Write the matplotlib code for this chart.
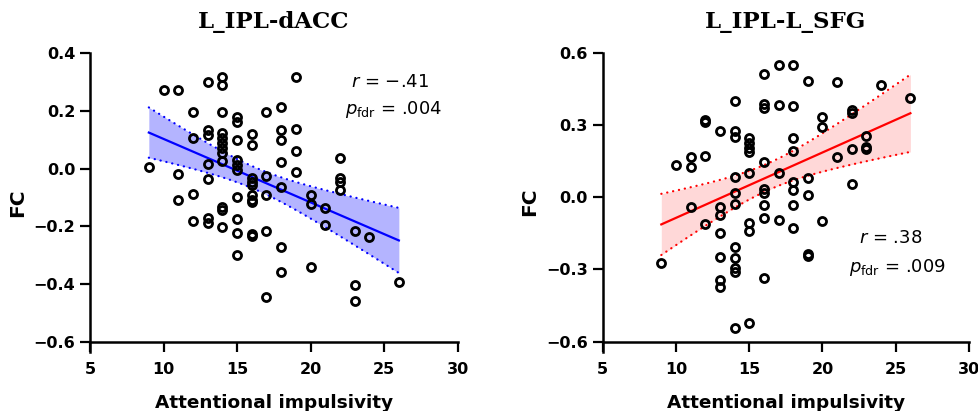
import numpy as np
import matplotlib
matplotlib.use("Agg")
import matplotlib.pyplot as plt

# ---------------- data ----------------
titles = ["L_IPL-dACC", "L_IPL-L_SFG"]
xlabel = "Attentional impulsivity"
ylabel = "FC"

dacc = {
    9: [0.007],
    10: [0.273],
    11: [0.273, -0.019, -0.110],
    12: [0.196, 0.108, -0.088, -0.181],
    13: [0.299, 0.134, 0.115, 0.015, -0.035, -0.172, -0.190],
    14: [0.317, 0.290, 0.196, 0.122, 0.105, 0.088, 0.071, 0.053, 0.027, -0.132, -0.144, -0.204],
    15: [0.180, 0.163, 0.099, 0.030, 0.013, -0.005, -0.100, -0.176, -0.222, -0.300],
    16: [0.120, 0.082, -0.034, -0.045, -0.057, -0.092, -0.109, -0.115, -0.228, -0.234],
    17: [0.197, -0.026, -0.092, -0.215, -0.444],
    18: [0.213, 0.134, 0.099, 0.024, -0.063, -0.271, -0.357],
    19: [0.319, 0.137, 0.060, -0.012],
    20: [-0.092, -0.123, -0.342],
    21: [-0.136, -0.196],
    22: [0.036, -0.034, -0.045, -0.074],
    23: [-0.215, -0.404, -0.458],
    24: [-0.238],
    26: [-0.392],
}
sfg = {
    9: [-0.272],
    10: [0.134],
    11: [0.168, 0.127, -0.042],
    12: [0.321, 0.314, 0.171, -0.111],
    13: [0.276, -0.040, -0.074, -0.150, -0.250, -0.344, -0.374],
    14: [0.401, 0.276, 0.249, 0.084, 0.019, -0.028, -0.206, -0.254, -0.295, -0.309, -0.545],
    15: [0.245, 0.225, 0.205, 0.188, 0.102, -0.106, -0.139, -0.524],
    16: [0.512, 0.387, 0.369, 0.145, 0.036, 0.016, -0.032, -0.086, -0.334],
    17: [0.549, 0.383, 0.102, -0.094],
    18: [0.549, 0.380, 0.245, 0.193, 0.062, 0.029, -0.032, -0.129],
    19: [0.484, 0.080, 0.008, -0.234, -0.244],
    20: [0.332, 0.292, -0.097],
    21: [0.477, 0.166],
    22: [0.362, 0.351, 0.200, 0.055],
    23: [0.254, 0.207, 0.199],
    24: [0.466],
    26: [0.411],
}
stats_r = ["\u2212.41", ".38"]
stats_p = [".004", ".009"]

x_ticks = [5, 10, 15, 20, 25, 30]
y_ticks = [[-0.6, -0.4, -0.2, 0.0, 0.2, 0.4], [-0.6, -0.3, 0.0, 0.3, 0.6]]
line_colors = ["#0000FF", "#FF0000"]
fill_colors = ["#B4B4FF", "#FFD8D8"]


def flatten(d):
    xs, ys = [], []
    for k, vals in d.items():
        for v in vals:
            xs.append(k)
            ys.append(v)
    return np.array(xs, float), np.array(ys, float)


def fit_ci(x, y, xg):
    n = len(x)
    b, a = np.polyfit(x, y, 1)
    yhat = a + b * xg
    res = y - (a + b * x)
    s = np.sqrt(np.sum(res ** 2) / (n - 2))
    sxx = np.sum((x - x.mean()) ** 2)
    t = 1.99
    se = s * np.sqrt(1.0 / n + (xg - x.mean()) ** 2 / sxx)
    return yhat, yhat - t * se, yhat + t * se


plt.rcParams["font.family"] = ["DejaVu Sans"]
plt.rcParams["mathtext.fontset"] = "dejavusans"

fig = plt.figure(figsize=(9.79, 4.11), dpi=100)
W, H = 979, 411
axes_px = [
    (90.0, 457.7, 53.3, 341.7, (-0.6, 0.4)),
    (602.7, 969.0, 52.7, 341.7, (-0.6, 0.6)),
]
datasets = [dacc, sfg]
stat_pos = [((390, 82), (394, 110)), ((891, 238), (897, 267))]

for i, (x0, x1, ytop, ybot, (ylo, yhi)) in enumerate(axes_px):
    ext_px = 10
    per = (ybot - ytop) / (yhi - ylo)
    ext = ext_px / per
    ax = fig.add_axes([x0 / W, 1 - (ybot + ext_px) / H, (x1 - x0) / W, (ybot + ext_px - ytop) / H])
    ax.set_xlim(5, 30)
    ax.set_ylim(ylo - ext, yhi)
    for s in ["top", "right"]:
        ax.spines[s].set_visible(False)
    ax.spines["bottom"].set_position(("data", ylo))
    for s in ["left", "bottom"]:
        ax.spines[s].set_linewidth(1.8)
    ax.set_xticks(x_ticks)
    ax.set_yticks(y_ticks[i])
    ax.set_yticklabels([f"{v:.1f}".replace("-", "\u2212") for v in y_ticks[i]])
    ax.tick_params(axis="both", direction="out", length=7.5, width=1.6,
                   labelsize=11.5, pad=3)
    ax.tick_params(axis="x", pad=7)
    for lab in ax.get_xticklabels() + ax.get_yticklabels():
        lab.set_fontweight("bold")

    x, y = flatten(datasets[i])
    xg = np.linspace(x.min(), x.max(), 100)
    yhat, lo, hi = fit_ci(x, y, xg)
    ax.fill_between(xg, lo, hi, color=fill_colors[i], lw=0, zorder=1)
    ax.plot(xg, yhat, color=line_colors[i], lw=1.6, zorder=2)
    for yy in (lo, hi):
        ax.plot(xg, yy, color=line_colors[i], lw=1.6, linestyle=(0, (0.1, 2.6)),
                dash_capstyle="round", zorder=2)
    ax.plot(x, y, "o", mfc="none", mec="black", ms=5.8, mew=2.0, zorder=3, clip_on=False)

    ax.set_title(titles[i], fontfamily="DejaVu Serif", fontweight="bold", fontsize=16.5, pad=18)
    ax.set_xlabel(xlabel, fontweight="bold", fontsize=13.3, labelpad=12)
    ax.set_ylabel(ylabel, fontweight="bold", fontsize=14.5, labelpad=5)

    (rx, ry), (px, py) = stat_pos[i]
    fig.text(rx / W, 1 - ry / H, r"$\it{r}$ = " + stats_r[i], ha="center", va="center", fontsize=13)
    fig.text(px / W, 1 - py / H, r"$\it{p}_{\rm fdr}$ = " + stats_p[i], ha="center", va="center", fontsize=13)

fig.savefig("out.png", dpi=100)
